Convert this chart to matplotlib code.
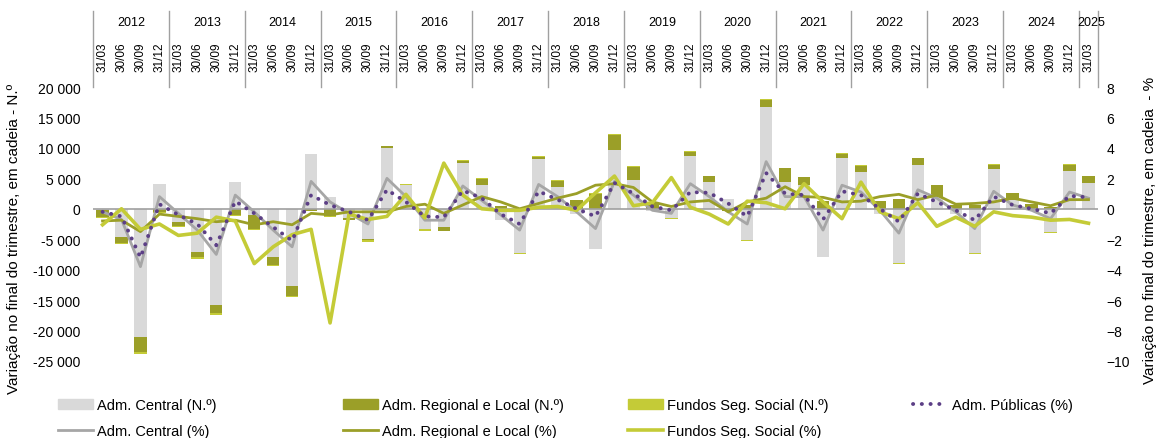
"""
Emprego nas Administracoes Publicas - variacao trimestral em cadeia
"""
import matplotlib.pyplot as plt
import numpy as np
from matplotlib.lines import Line2D
from matplotlib.patches import Patch

years = ["2012", "2013", "2014", "2015", "2016", "2017", "2018", "2019",
         "2020", "2021", "2022", "2023", "2024", "2025"]
quarter_names = ["31/03", "30/06", "30/09", "31/12"]
quarters = [q for y in years[:-1] for q in quarter_names] + ["31/03"]

# variacao em numero de postos de trabalho (eixo da esquerda)
adm_central_n = [-200, -4600, -21100, 4150, -2130, -7050, -15800, 4480, -1100, -8000,
                 -12700, 9080, 1860, -1500, -4900, 10060, 3830, -3400, -3000, 7540,
                 3880, -1900, -7330, 8200, 3660, -800, -6600, 9730, 4700, -400,
                 -1580, 8640, 4430, 1530, -5150, 16730, 4320, 3880, -7870, 8420,
                 6070, -930, -8970, 7270, 2000, -870, -7330, 6500, 1420, -200,
                 -3880, 6180, 4260]
adm_regional_n = [-1100, -1000, -2400, -600, -700, -930, -1370, -1100, -2200, -1250,
                  -1640, -300, -1200, -300, -300, 200, 0, 0, -600, 330,
                  1090, 500, 0, 270, 980, 1420, 2350, 2350, 2190, 900,
                  0, 710, 930, -400, 650, 1090, 2300, 1260, 1200, 600,
                  930, 1260, 1530, 1040, 1900, 550, 550, 770, 1200, 750,
                  330, 1090, 1090]
fundos_n = [-200, -150, -300, -100, -200, -200, -200, -150, -200, -200,
            -200, -100, -100, -100, -200, 100, 200, -200, -100, 100,
            100, 0, -150, 150, 100, 0, 200, 270, 100, 0,
            -100, 100, 100, 0, -100, 150, 50, 100, -100, 100,
            150, 0, -100, 100, 50, 0, -100, 50, 50, 0,
            -100, 50, 50]

# variacao percentual (eixo da direita)
adm_publicas_pct = [-0.2, -0.5, -3.2, 0.3, -0.4, -1.0, -2.4, 0.5, -0.3, -1.2,
                    -2.1, 0.9, 0.25, -0.2, -0.75, 1.25, 0.45, -0.5, -0.55, 1.2,
                    0.7, -0.35, -1.0, 1.15, 0.6, 0.0, -0.5, 1.7, 1.0, 0.15,
                    -0.1, 1.1, 1.05, 0.35, -0.5, 2.35, 1.0, 0.9, -0.7, 1.15,
                    0.9, 0.0, -0.85, 1.0, 0.45, -0.1, -0.75, 0.8, 0.25, 0.0,
                    -0.3, 0.85, 0.75]
adm_central_pct = [-0.2, -0.7, -3.8, 0.8, -0.3, -1.4, -3.0, 0.9, -0.2, -1.4,
                   -2.5, 1.8, 0.45, -0.3, -1.0, 2.0, 0.8, -0.75, -0.75, 1.5,
                   0.55, -0.4, -1.4, 1.6, 0.8, -0.2, -1.3, 1.8, 0.9, -0.1,
                   -0.3, 1.65, 0.8, -0.2, -1.0, 3.1, 0.8, 0.8, -1.4, 1.55,
                   1.1, -0.1, -1.6, 1.25, 0.7, -0.2, -1.3, 1.15, 0.25, -0.1,
                   -0.65, 1.1, 0.7]
adm_regional_pct = [-0.8, -0.75, -1.5, -0.35, -0.5, -0.65, -0.85, -0.75, -1.05, -0.85,
                    -1.05, -0.3, -0.4, -0.2, -0.2, -0.2, 0.15, 0.3, -0.3, 0.25,
                    0.8, 0.45, 0.0, 0.35, 0.7, 1.0, 1.55, 1.65, 1.4, 0.45,
                    0.15, 0.45, 0.55, -0.2, 0.45, 0.7, 1.45, 0.8, 0.75, 0.45,
                    0.5, 0.8, 0.95, 0.6, 0.9, 0.3, 0.35, 0.45, 0.7, 0.45,
                    0.2, 0.6, 0.6]
fundos_pct = [-1.05, 0.0, -1.35, -1.0, -1.75, -1.6, -0.55, -0.8, -3.6, -2.5,
              -1.7, -1.35, -7.5, -0.35, -0.7, -0.5, 0.95, -0.6, 3.0, 0.9,
              0.0, -0.1, -0.1, 0.1, 0.15, -0.1, 1.05, 2.15, 0.2, 0.4,
              2.05, 0.1, -0.35, -1.0, 0.5, 0.4, 0.0, 1.65, 0.45, -0.65,
              1.75, -0.2, -0.65, 0.4, -1.15, -0.55, -1.15, -0.2, -0.45, -0.55,
              -0.75, -0.7, -0.95]

GREY_BAR = "#D9D9D9"
OLIVE = "#9B9F28"
LIME = "#C4CB37"
GREY_LINE = "#A6A6A6"
PURPLE = "#5C3F86"
DOTS = (0, (0.05, 2.2))

plt.rcParams['font.family'] = ['Liberation Sans', 'DejaVu Sans']

fig = plt.figure(figsize=(11.56, 4.39), dpi=100)
ax = fig.add_axes([0.0805, 0.1754, 0.8693, 0.6241])
ax2 = ax.twinx()

x = np.arange(len(quarters))
w = 0.65


def stack(values_list):
    # barras empilhadas como no Excel: positivos para cima, negativos para baixo
    pos = np.zeros(len(x))
    neg = np.zeros(len(x))
    out = []
    for vals in values_list:
        v = np.array(vals, dtype=float)
        bottom = np.where(v >= 0, pos, neg)
        out.append((v, bottom))
        pos = pos + np.where(v >= 0, v, 0)
        neg = neg + np.where(v < 0, v, 0)
    return out


(c_v, c_b), (r_v, r_b), (f_v, f_b) = stack([adm_central_n, adm_regional_n, fundos_n])
ax.bar(x, c_v, w, bottom=c_b, color=GREY_BAR, zorder=2)
ax.bar(x, r_v, w, bottom=r_b, color=OLIVE, zorder=2)
ax.bar(x, f_v, w, bottom=f_b, color=LIME, zorder=2)
ax.axhline(0, color="#A0A0A0", lw=1.2, zorder=3)

ax2.plot(x, adm_central_pct, color=GREY_LINE, lw=2, zorder=4)
ax2.plot(x, adm_regional_pct, color=OLIVE, lw=2, zorder=4)
ax2.plot(x, fundos_pct, color=LIME, lw=2.6, zorder=5)
ax2.plot(x, adm_publicas_pct, color=PURPLE, lw=2.8, linestyle=DOTS,
         dash_capstyle="round", zorder=6)

ax.set_xlim(-0.5, len(quarters) - 0.5)
ax.set_ylim(-25000, 20000)
ax2.set_ylim(-10, 8)
ax.set_yticks(np.arange(-25000, 20001, 5000))
ax.set_yticklabels([f"{v:,}".replace(",", " ") for v in range(-25000, 20001, 5000)])
ax2.set_yticks(np.arange(-10, 9, 2))
ax.tick_params(axis="y", length=0, labelsize=10, pad=9)
ax2.tick_params(axis="y", length=0, labelsize=10, pad=6)
ax.set_xticks([])
for a in (ax, ax2):
    for s in a.spines.values():
        s.set_visible(False)
ax.set_zorder(ax2.get_zorder() - 1)
ax2.patch.set_visible(False)

ax.set_ylabel("Variação no final do trimestre, em cadeia - N.º", fontsize=11)
ax2.set_ylabel("Variação no final do trimestre, em cadeia  - %", fontsize=11)
ax.yaxis.set_label_coords(-0.0716, 0.45)
ax2.yaxis.set_label_coords(1.0445, 0.48)

# eixo de categorias em dois niveis, no topo
trans = ax.get_xaxis_transform()
for i, q in enumerate(quarters):
    ax.text(i, 1.113, q, rotation=90, ha="center", va="center", fontsize=8.5,
            transform=trans, clip_on=False)
bounds = [-0.5]
for k, yr in enumerate(years):
    start = 4 * k
    end = min(start + 3, len(quarters) - 1)
    ax.text((start + end) / 2 + (0.15 if yr == "2025" else 0), 1.237, yr,
            ha="center", va="center", fontsize=9, transform=trans, clip_on=False)
    bounds.append(end + 0.5)
for b in bounds:
    ax.plot([b, b], [1.0, 1.277], color="#A0A0A0", lw=1, transform=trans, clip_on=False)

# legenda: quatro colunas igualmente espacadas
columns = [
    [Patch(color=GREY_BAR, label="Adm. Central (N.º)"),
     Line2D([], [], color=GREY_LINE, lw=2, label="Adm. Central (%)")],
    [Patch(color=OLIVE, label="Adm. Regional e Local (N.º)"),
     Line2D([], [], color=OLIVE, lw=2, label="Adm. Regional e Local (%)")],
    [Patch(color=LIME, label="Fundos Seg. Social (N.º)"),
     Line2D([], [], color=LIME, lw=2.6, label="Fundos Seg. Social (%)")],
    [Line2D([], [], color=PURPLE, lw=2.8, linestyle=DOTS,
            dash_capstyle="round", label="Adm. Públicas (%)")],
]
col_x = [58, 343, 628, 913]
for cx, hs in zip(col_x, columns):
    fig.legend(handles=hs, loc="upper left", bbox_to_anchor=(cx / 1156, 1 - 399 / 439),
               frameon=False, fontsize=10.5, handlelength=2.4, handletextpad=0.25,
               labelspacing=0.8, borderpad=0, borderaxespad=0)

fig.savefig("out.png", dpi=100)
plt.close()
